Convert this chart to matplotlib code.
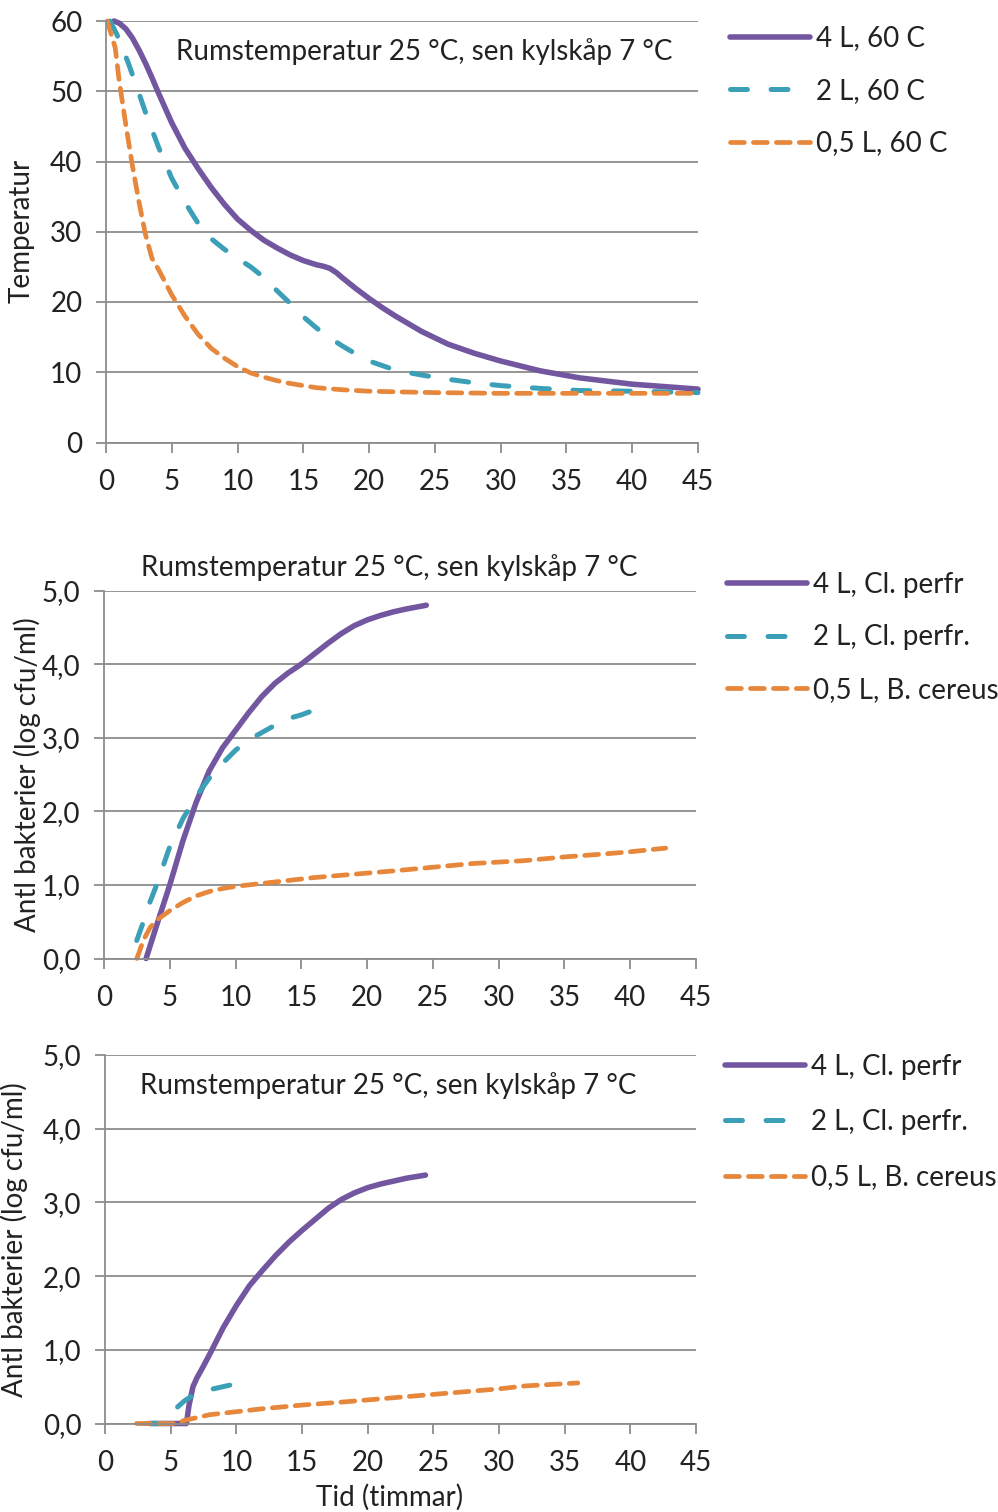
import numpy as np
import matplotlib
matplotlib.use("Agg")
import matplotlib.pyplot as plt
from matplotlib.ticker import FuncFormatter, MultipleLocator

plt.rcParams["font.family"] = ["Lato", "DejaVu Sans"]
plt.rcParams["lines.scale_dashes"] = False

# ── DATA ──────────────────────────────────────────────────────
# panel 1: temperature (°C) vs time (h)
t_4l_temp = [0.6, 1, 1.5, 2, 2.5, 3, 3.5, 4, 5, 6, 7, 8, 9, 10, 11, 12, 13, 14, 15, 16,
             16.5, 17, 17.5, 18, 19, 20, 21, 22, 24, 26, 28, 30, 33, 36, 40, 45]
y_4l_temp = [60, 59.7, 58.9, 57.6, 55.9, 54.0, 51.9, 49.7, 45.5, 41.9, 39.0, 36.3, 33.9,
             31.8, 30.2, 28.8, 27.7, 26.7, 25.9, 25.3, 25.1, 24.8, 24.2, 23.4, 21.9, 20.5,
             19.2, 18.0, 15.8, 14.0, 12.7, 11.6, 10.2, 9.2, 8.3, 7.6]

t_2l_temp = [0.3, 0.8, 1.7, 2.6, 3, 4, 5, 6, 7, 8, 9, 10, 11, 12, 13, 14, 15, 16, 17, 18,
             19, 20, 22, 24, 26, 28, 30, 33, 36, 40, 45]
y_2l_temp = [60, 58.2, 54, 49.2, 47, 42, 37.6, 34.2, 31.2, 29, 27.5, 26.2, 25, 23.5, 21.6,
             19.8, 17.9, 16.3, 14.9, 13.7, 12.6, 11.6, 10.3, 9.6, 9.0, 8.5, 8.1, 7.7,
             7.4, 7.3, 7.1]

t_05l_temp = [0.1, 0.3, 0.7, 1, 1.5, 2, 2.5, 3, 3.5, 4, 4.5, 5, 6, 7, 8, 9, 10, 11, 12, 13,
              14, 16, 18, 20, 25, 30, 35, 40, 45]
y_05l_temp = [60, 58.7, 56.2, 51.5, 45.3, 39.5, 34.3, 29.6, 26.2, 24.6, 22.8, 21, 18, 15.4,
              13.4, 12, 10.8, 9.9, 9.3, 8.8, 8.4, 7.8, 7.5, 7.3, 7.1, 7.0, 7.0, 7.0, 7.0]

# panel 2: bacteria (log cfu/ml), room temp then fridge
t_4l_b1 = [3.2, 4, 5, 6, 7, 8, 9, 10, 11, 12, 13, 14, 15, 16, 17, 18, 19, 20, 21, 22,
           23, 24.5]
y_4l_b1 = [0, 0.45, 1.0, 1.6, 2.12, 2.55, 2.86, 3.1, 3.34, 3.56, 3.74, 3.88, 4.0, 4.14,
           4.28, 4.41, 4.52, 4.6, 4.66, 4.71, 4.75, 4.8]

t_2l_b1 = [1.9, 2.5, 3, 3.5, 4, 5, 6, 7, 8, 9, 10, 11, 12, 13, 14, 15, 15.6]
y_2l_b1 = [0, 0.25, 0.5, 0.77, 1.0, 1.52, 1.9, 2.2, 2.45, 2.65, 2.83, 2.97, 3.07, 3.17,
           3.26, 3.31, 3.35]

t_05l_b1 = [2.5, 3, 3.5, 4, 5, 6, 7, 8, 9, 10, 12, 14, 16, 18, 20, 22, 25, 28, 30, 32,
            35, 38, 40, 42.7]
y_05l_b1 = [0, 0.25, 0.42, 0.52, 0.65, 0.76, 0.85, 0.91, 0.95, 0.98, 1.02, 1.06, 1.1,
            1.13, 1.16, 1.19, 1.24, 1.29, 1.31, 1.33, 1.38, 1.42, 1.45, 1.5]

# panel 3: bacteria (log cfu/ml)
t_4l_b2 = [3.4, 6.2, 6.4, 6.7, 7, 7.5, 8, 9, 10, 11, 12, 13, 14, 15, 16, 17, 18, 19, 20,
           21, 22, 23, 24.4]
y_4l_b2 = [0, 0, 0.25, 0.5, 0.62, 0.78, 0.95, 1.3, 1.6, 1.87, 2.08, 2.28, 2.46, 2.62,
           2.77, 2.92, 3.04, 3.13, 3.2, 3.25, 3.29, 3.33, 3.37]

t_2l_b2 = [1.6, 4.3, 5, 5.5, 6, 6.5, 7, 8, 9, 9.5]
y_2l_b2 = [0, 0, 0.12, 0.22, 0.3, 0.36, 0.4, 0.46, 0.5, 0.52]

t_05l_b2 = [2.4, 5.5, 6, 7, 8, 10, 12, 15, 18, 20, 22, 24, 26, 28, 30, 32, 34, 36]
y_05l_b2 = [0, 0, 0.04, 0.08, 0.12, 0.16, 0.2, 0.25, 0.29, 0.32, 0.35, 0.38, 0.41, 0.44,
            0.47, 0.51, 0.53, 0.55]

labels_temp = ["4 L, 60 C", "2 L, 60 C", "0,5 L, 60 C"]
labels_bact = ["4 L, Cl. perfr", "2 L, Cl. perfr.", "0,5 L, B. cereus"]
title_txt = "Rumstemperatur 25 °C, sen kylskåp 7 °C"

# ── STYLE ─────────────────────────────────────────────────────
PURPLE = "#7257A0"
BLUE = "#3A9FB7"
ORANGE = "#E6873B"
GRID = "#8C8C8C"
TXT = "#222222"
FS = 20

W, H = 998, 1512
fig = plt.figure(figsize=(W / 100, H / 100), dpi=100, facecolor="white")


def px_axes(left, top, right, bottom):
    return fig.add_axes([left / W, 1 - bottom / H, (right - left) / W, (bottom - top) / H])


def style_axes(ax, ymax, ystep, fmt):
    ax.set_xlim(0, 45)
    ax.set_ylim(0, ymax)
    ax.xaxis.set_major_locator(MultipleLocator(5))
    ax.yaxis.set_major_locator(MultipleLocator(ystep))
    ax.yaxis.set_major_formatter(FuncFormatter(fmt))
    for s in ["top", "right"]:
        ax.spines[s].set_visible(False)
    for s in ["left", "bottom"]:
        ax.spines[s].set_color(GRID)
        ax.spines[s].set_linewidth(1.3)
    ax.grid(axis="y", color=GRID, linewidth=1.3)
    ax.set_axisbelow(True)
    ax.tick_params(axis="both", direction="out", length=7, width=1.3, color=GRID,
                   labelsize=FS, labelcolor=TXT)
    ax.tick_params(axis="x", pad=12)
    ax.tick_params(axis="y", pad=10)
    ax.patch.set_alpha(0)


def draw_lines(ax, series, labels, leg_xy, spacing, reverse_blue=False):
    (t1, y1), (t2, y2), (t3, y3) = series
    if reverse_blue:
        # run the dash pattern from the end so the last point is drawn
        t2, y2 = t2[::-1], y2[::-1]
    ax.plot(t1, y1, color=PURPLE, lw=4.0, solid_capstyle="round",
            solid_joinstyle="round", label=labels[0], clip_on=False)
    ax.plot(t2, y2, color=BLUE, lw=3.6, dashes=(12.2, 17), dash_capstyle="round",
            label=labels[1], clip_on=False)
    ax.plot(t3, y3, color=ORANGE, lw=3.4, dashes=(10, 6.5), dash_capstyle="round",
            label=labels[2], clip_on=False)
    ax.legend(loc="upper left", bbox_to_anchor=(leg_xy[0] / W, 1 - leg_xy[1] / H),
              bbox_transform=fig.transFigure, frameon=False, fontsize=FS,
              handlelength=2.88, handletextpad=0.2, labelspacing=spacing,
              borderpad=0, borderaxespad=0, labelcolor=TXT)


int_fmt = lambda v, p: f"{v:.0f}"
dec_fmt = lambda v, p: f"{v:.1f}".replace(".", ",")

# ── PANEL 1: temperature ─────────────────────────────────────
ax1 = px_axes(106, 21, 698, 442.5)
style_axes(ax1, 60, 10, int_fmt)
draw_lines(ax1, [(t_4l_temp, y_4l_temp), (t_2l_temp, y_2l_temp), (t_05l_temp, y_05l_temp)],
           labels_temp, (730, 25.5), 0.95)
fig.text(424 / W, 1 - 52 / H, title_txt, ha="center", va="center", fontsize=FS, color=TXT)
fig.text(22 / W, 1 - 231 / H, "Temperatur", rotation=90, ha="center", va="center",
         fontsize=FS, color=TXT)

# ── PANEL 2: bacteria ────────────────────────────────────────
ax2 = px_axes(104, 590.5, 696, 958.5)
style_axes(ax2, 5, 1, dec_fmt)
draw_lines(ax2, [(t_4l_b1, y_4l_b1), (t_2l_b1, y_2l_b1), (t_05l_b1, y_05l_b1)],
           labels_bact, (727, 572), 0.95, reverse_blue=True)
fig.text(389 / W, 1 - 568 / H, title_txt, ha="center", va="center", fontsize=FS, color=TXT)
fig.text(27 / W, 1 - 775 / H, "Antl bakterier (log cfu/ml)", rotation=90, ha="center",
         va="center", fontsize=FS, color=TXT)

# ── PANEL 3: bacteria ────────────────────────────────────────
ax3 = px_axes(105, 1055, 696, 1423.5)
style_axes(ax3, 5, 1, dec_fmt)
draw_lines(ax3, [(t_4l_b2, y_4l_b2), (t_2l_b2, y_2l_b2), (t_05l_b2, y_05l_b2)],
           labels_bact, (725, 1054), 1.05, reverse_blue=True)
fig.text(388 / W, 1 - 1086 / H, title_txt, ha="center", va="center", fontsize=FS, color=TXT)
fig.text(14 / W, 1 - 1240 / H, "Antl bakterier (log cfu/ml)", rotation=90, ha="center",
         va="center", fontsize=FS, color=TXT)
fig.text(390 / W, 1 - 1497 / H, "Tid (timmar)", ha="center", va="center", fontsize=FS,
         color=TXT)

fig.savefig("out.png", dpi=100, facecolor="white")
